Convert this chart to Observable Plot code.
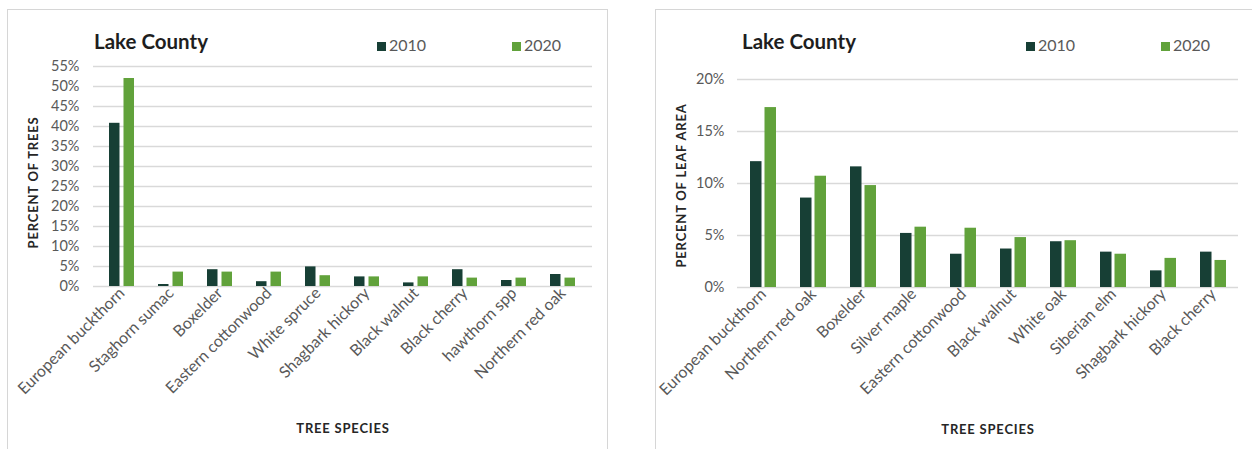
<!DOCTYPE html>
<html>
<head>
<meta charset="utf-8">
<script src="https://cdn.jsdelivr.net/npm/d3@7"></script>
<script src="https://cdn.jsdelivr.net/npm/@observablehq/plot@0.6"></script>
<style>
  html, body { margin: 0; padding: 0; background: #fff; }
  body { width: 1252px; height: 449px; overflow: hidden; position: relative; font-family: Lato, "Open Sans", sans-serif; }
  .panel { position: absolute; border: 1.5px solid #d6d6d6; box-sizing: border-box; }
  .plot { position: absolute; top: 0; }
  .title { position: absolute; font-size: 20.5px; font-weight: 700; color: #1e1e1e; line-height: 20px; white-space: nowrap; }
  .leg { position: absolute; font-size: 16px; color: #595959; line-height: 16px; white-space: nowrap; }
  .sw { position: absolute; width: 9px; height: 9px; }
</style>
</head>
<body>
<div class="panel" style="left:7px; top:9px; width:601px; height:520px;"></div>
<div class="panel" style="left:655px; top:9px; width:700px; height:520px;"></div>
<div id="left" class="plot" style="left:0px;"></div>
<div id="right" class="plot" style="left:640px;"></div>
<div id="labels"></div>
<script>
// ---------- data ----------
const years = ["2010", "2020"];
const colors2010 = "#173f35";
const colors2020 = "#61a23b";

const leftSpecies = ["European buckthorn", "Staghorn sumac", "Boxelder", "Eastern cottonwood", "White spruce", "Shagbark hickory", "Black walnut", "Black cherry", "hawthorn spp", "Northern red oak"];
const left2010 = [40.8, 0.5, 4.2, 1.2, 4.9, 2.4, 0.9, 4.2, 1.5, 3.0];
const left2020 = [52.0, 3.6, 3.6, 3.6, 2.7, 2.4, 2.4, 2.1, 2.1, 2.1];
const leftTicks = [0, 5, 10, 15, 20, 25, 30, 35, 40, 45, 50, 55];

const rightSpecies = ["European buckthorn", "Northern red oak", "Boxelder", "Silver maple", "Eastern cottonwood", "Black walnut", "White oak", "Siberian elm", "Shagbark hickory", "Black cherry"];
const right2010 = [12.1, 8.6, 11.6, 5.2, 3.2, 3.7, 4.4, 3.4, 1.6, 3.4];
const right2020 = [17.3, 10.7, 9.8, 5.8, 5.7, 4.8, 4.5, 3.2, 2.8, 2.6];
const rightTicks = [0, 5, 10, 15, 20];

const chartTitle = "Lake County";
const xTitle = "TREE SPECIES";

function makeChart(species, v2010, v2020, ticks, yLabel, opts) {
  const d2010 = species.map((s, i) => ({species: s, value: v2010[i]}));
  const d2020 = species.map((s, i) => ({species: s, value: v2020[i]}));
  return Plot.plot({
    width: opts.width,
    height: 449,
    marginLeft: opts.ml,
    marginRight: opts.mr,
    marginTop: opts.mt,
    marginBottom: opts.mb,
    style: {fontFamily: "Lato, sans-serif", background: "transparent", overflow: "visible"},
    x: {domain: species, paddingInner: 0.48, paddingOuter: 0.24},
    y: {domain: [0, ticks[ticks.length - 1]]},
    marks: [
      Plot.ruleY(ticks, {stroke: "#d9d9d9", strokeWidth: 1.5}),
      Plot.barY(d2010, {x: "species", y: "value", fill: colors2010, insetRight: 14.5}),
      Plot.barY(d2020, {x: "species", y: "value", fill: colors2020, insetLeft: 14.5}),
      Plot.axisY({ticks: ticks, tickFormat: d => d + "%", tickSize: 0, tickPadding: opts.tp, fontSize: 14.5, fill: "#595959", label: null}),
      Plot.axisX({tickRotate: -45, tickSize: 0, tickPadding: 4, fontSize: 16, fill: "#595959", label: null}),
      Plot.text([yLabel], {frameAnchor: "left", textAnchor: "middle", dx: opts.ylx, dy: opts.yly, rotate: -90, fontSize: 13, fontWeight: 700, fill: "#262626"}),
      Plot.text([xTitle], {frameAnchor: "bottom", textAnchor: "middle", dy: 142, fontSize: 13, fontWeight: 700, fill: "#262626", lineAnchor: "middle"})
    ]
  });
}

function spacing(svg, texts, ls) {
  svg.querySelectorAll("text").forEach(t => { if (texts.includes(t.textContent)) t.setAttribute("letter-spacing", ls); });
}

const leftChart = makeChart(leftSpecies, left2010, left2020, leftTicks, "PERCENT OF TREES",
  {width: 620, ml: 93, mr: 28, mt: 66, mb: 163, tp: 14, ylx: -60, yly: 6});
spacing(leftChart, ["PERCENT OF TREES", xTitle], "0.8");
document.getElementById("left").appendChild(leftChart);

const rightChart = makeChart(rightSpecies, right2010, right2020, rightTicks, "PERCENT OF LEAF AREA",
  {width: 612, ml: 97, mr: 14, mt: 79, mb: 162, tp: 13, ylx: -56, yly: 2});
spacing(rightChart, ["PERCENT OF LEAF AREA", xTitle], "0.8");
document.getElementById("right").appendChild(rightChart);

// titles & legends
const labels = document.getElementById("labels");
function addTitle(x) {
  const d = document.createElement("div");
  d.className = "title"; d.style.left = x + "px"; d.style.top = "31px"; d.textContent = chartTitle;
  labels.appendChild(d);
}
function addLegend(x, year, color) {
  const s = document.createElement("div");
  s.className = "sw"; s.style.left = x + "px"; s.style.top = "42px"; s.style.background = color;
  labels.appendChild(s);
  const t = document.createElement("div");
  t.className = "leg"; t.style.left = (x + 12) + "px"; t.style.top = "37px"; t.textContent = year;
  labels.appendChild(t);
}
addTitle(94); addTitle(742);
addLegend(377, years[0], colors2010); addLegend(512, years[1], colors2020);
addLegend(1026, years[0], colors2010); addLegend(1161, years[1], colors2020);
</script>
</body>
</html>
